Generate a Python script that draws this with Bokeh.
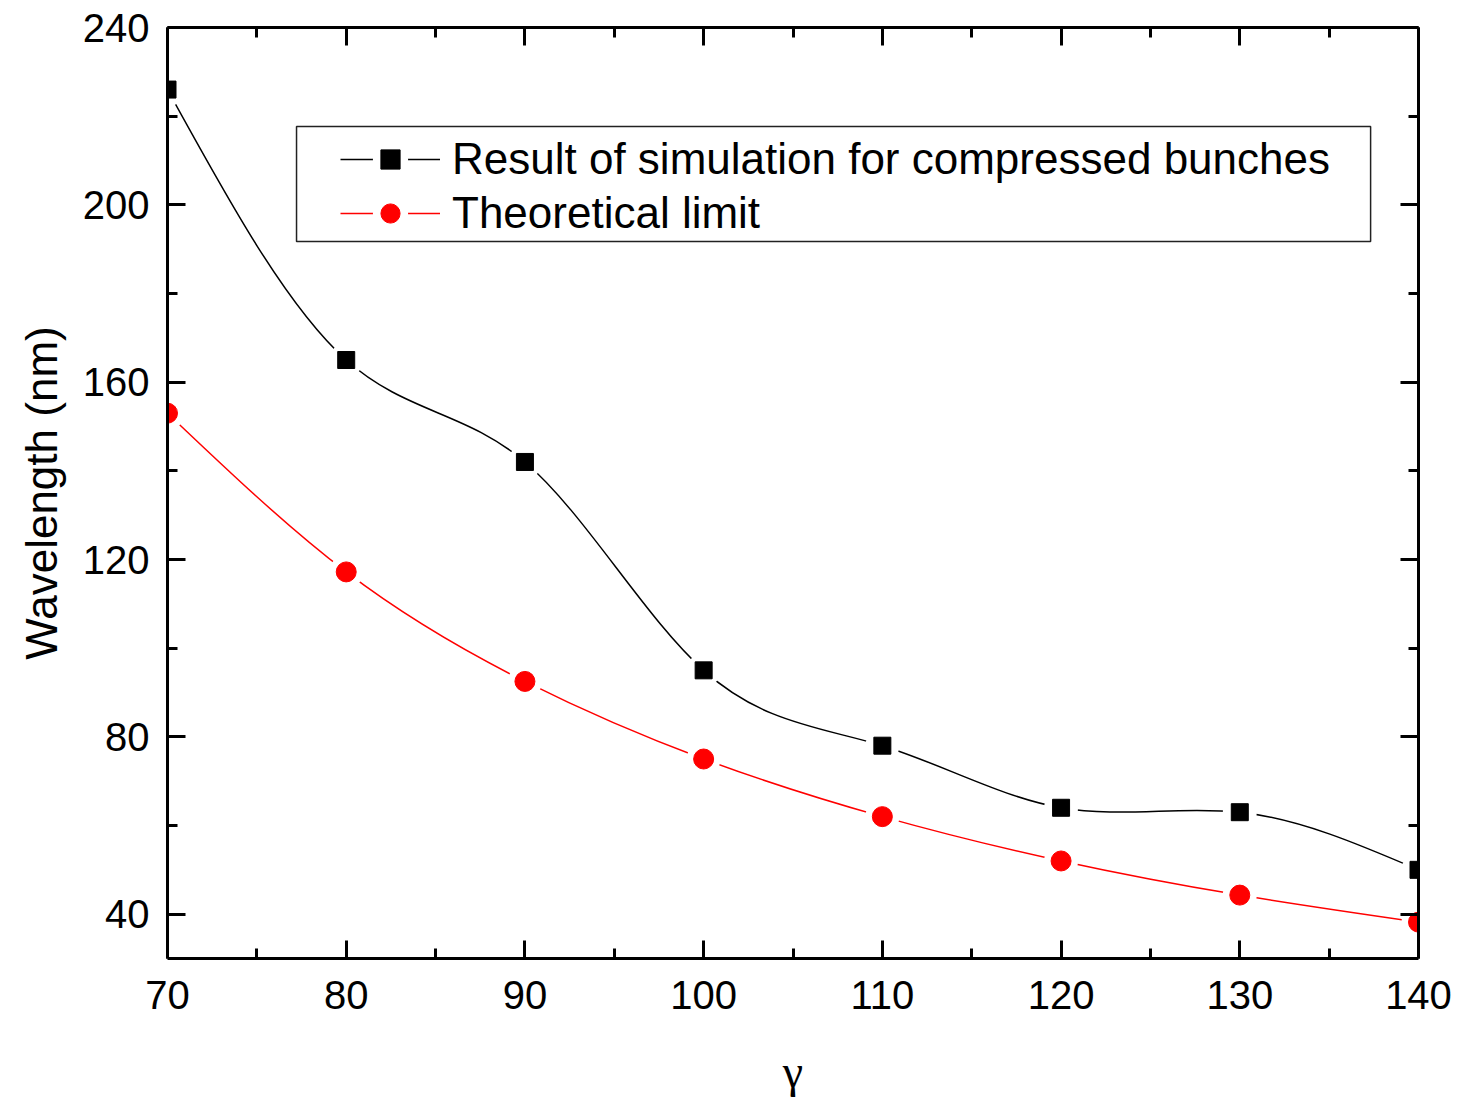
import numpy as np
from bokeh.plotting import figure
from bokeh.models import (FixedTicker, LinearAxis, Range1d, Legend, LegendItem,
                          BoxAnnotation, CustomLabelingPolicy)
from bokeh.embed import file_html
from bokeh.resources import INLINE

# ---- data ----
gamma = [70, 80, 90, 100, 110, 120, 130, 140]
sim_wavelength = [226, 165, 142, 95, 78, 64, 63, 50]
theory_wavelength = [153, 117.2, 92.5, 75, 62, 52, 44.3, 38.2]

x_ticks = [70, 80, 90, 100, 110, 120, 130, 140]
x_minor = [75, 85, 95, 105, 115, 125, 135]
y_ticks = [40, 80, 120, 160, 200, 240]
y_minor = [60, 100, 140, 180, 220]

sim_label = "Result of simulation for compressed bunches"
theory_label = "Theoretical limit"
x_title = "γ"
y_title = "Wavelength (nm)"


def spline_bezier(x, y):
    """Natural cubic spline through the points, as Bezier segment controls."""
    x = np.asarray(x, float)
    y = np.asarray(y, float)
    n = len(x)
    h = np.diff(x)
    A = np.zeros((n, n))
    b = np.zeros(n)
    A[0, 0] = 1
    A[-1, -1] = 1
    for i in range(1, n - 1):
        A[i, i - 1] = h[i - 1]
        A[i, i] = 2 * (h[i - 1] + h[i])
        A[i, i + 1] = h[i]
        b[i] = 6 * ((y[i + 1] - y[i]) / h[i] - (y[i] - y[i - 1]) / h[i - 1])
    M = np.linalg.solve(A, b)
    s = np.diff(y) / h
    d0 = s - h * (2 * M[:-1] + M[1:]) / 6
    d1 = s + h * (M[:-1] + 2 * M[1:]) / 6
    return dict(x0=x[:-1], y0=y[:-1], x1=x[1:], y1=y[1:],
                cx0=x[:-1] + h / 3, cy0=y[:-1] + h / 3 * d0,
                cx1=x[1:] - h / 3, cy1=y[1:] - h / 3 * d1)


FONT = "Liberation Sans"

p = figure(width=1457, height=1105, output_backend="svg", toolbar_location=None,
           x_range=Range1d(70, 140), y_range=Range1d(30, 240),
           min_border_left=167, min_border_right=39, min_border_top=27,
           min_border_bottom=147, x_axis_label=x_title, y_axis_label=y_title)
p.outline_line_color = None
p.xgrid.visible = False
p.ygrid.visible = False
p.background_fill_color = "white"
p.border_fill_color = "white"

# extra mirrored axes (ticks only, no labels)
no_labels = CustomLabelingPolicy(code="""
    const ids = [...indices]
    for (const i of ids) indices.unset(i)
""")
right_axis = LinearAxis(major_label_policy=no_labels)
top_axis = LinearAxis(major_label_policy=no_labels)
p.add_layout(right_axis, "right")
p.add_layout(top_axis, "above")

for ax in p.xaxis:
    ax.ticker = FixedTicker(ticks=x_ticks, minor_ticks=x_minor)
for ax in p.yaxis:
    ax.ticker = FixedTicker(ticks=y_ticks, minor_ticks=y_minor)

for ax in p.axis:
    ax.axis_line_width = 3
    ax.axis_line_color = "black"
    ax.major_tick_line_width = 3
    ax.minor_tick_line_width = 3
    ax.major_tick_line_color = "black"
    ax.minor_tick_line_color = "black"
    ax.major_tick_in = 18
    ax.major_tick_out = 0
    ax.minor_tick_in = 10
    ax.minor_tick_out = 0
    ax.major_label_text_font = FONT
    ax.major_label_text_font_size = "40px"
    ax.major_label_text_color = "black"

for ax in (right_axis, top_axis):
    ax.major_label_text_font_size = "1px"
    ax.major_label_standoff = 0

p.below[0].major_label_standoff = 22
p.below[0].axis_label_text_font = "Liberation Serif"
p.below[0].axis_label_text_font_style = "normal"
p.below[0].axis_label_text_font_size = "46px"
p.below[0].axis_label_text_color = "black"
p.below[0].axis_label_standoff = 34

p.left[0].major_label_standoff = 18
p.left[0].axis_label_text_font = FONT
p.left[0].axis_label_text_font_style = "normal"
p.left[0].axis_label_text_font_size = "44px"
p.left[0].axis_label_text_color = "black"
p.left[0].axis_label_standoff = 14

# curves
sim_curve = p.bezier(source=spline_bezier(gamma, sim_wavelength), x0="x0", y0="y0",
                     x1="x1", y1="y1", cx0="cx0", cy0="cy0", cx1="cx1", cy1="cy1",
                     line_color="black", line_width=1.5)
th_curve = p.bezier(source=spline_bezier(gamma, theory_wavelength), x0="x0", y0="y0",
                    x1="x1", y1="y1", cx0="cx0", cy0="cy0", cx1="cx1", cy1="cy1",
                    line_color="#ff0000", line_width=1.5)

# white halos to leave gaps around markers
sim_halo = p.scatter(gamma, sim_wavelength, marker="circle", size=18,
                     fill_color="white", line_color="white", line_width=16)
th_halo = p.scatter(gamma, theory_wavelength, marker="circle", size=18,
                    fill_color="white", line_color="white", line_width=16)

sim_pts = p.scatter(gamma, sim_wavelength, marker="square", size=17,
                    fill_color="black", line_color="black")
th_pts = p.scatter(gamma, theory_wavelength, marker="circle", size=20,
                   fill_color="#ff0000", line_color="#ff0000")

# legend frame
p.add_layout(BoxAnnotation(left=77.22, right=137.32, top=217.67, bottom=191.73,
                           fill_alpha=0, line_color="#222222", line_alpha=1,
                           line_width=1.5))

legend = Legend(items=[LegendItem(label=sim_label, renderers=[sim_curve, sim_halo, sim_pts]),
                       LegendItem(label=theory_label, renderers=[th_curve, th_halo, th_pts])],
                location=(173, 720), padding=0, spacing=4, glyph_width=100,
                glyph_height=48, label_height=48, label_standoff=12,
                label_text_font=FONT, label_text_font_size="44px",
                label_text_color="black",
                border_line_alpha=0, background_fill_alpha=0)
p.add_layout(legend)

open("out.html", "w").write(file_html(p, INLINE))
